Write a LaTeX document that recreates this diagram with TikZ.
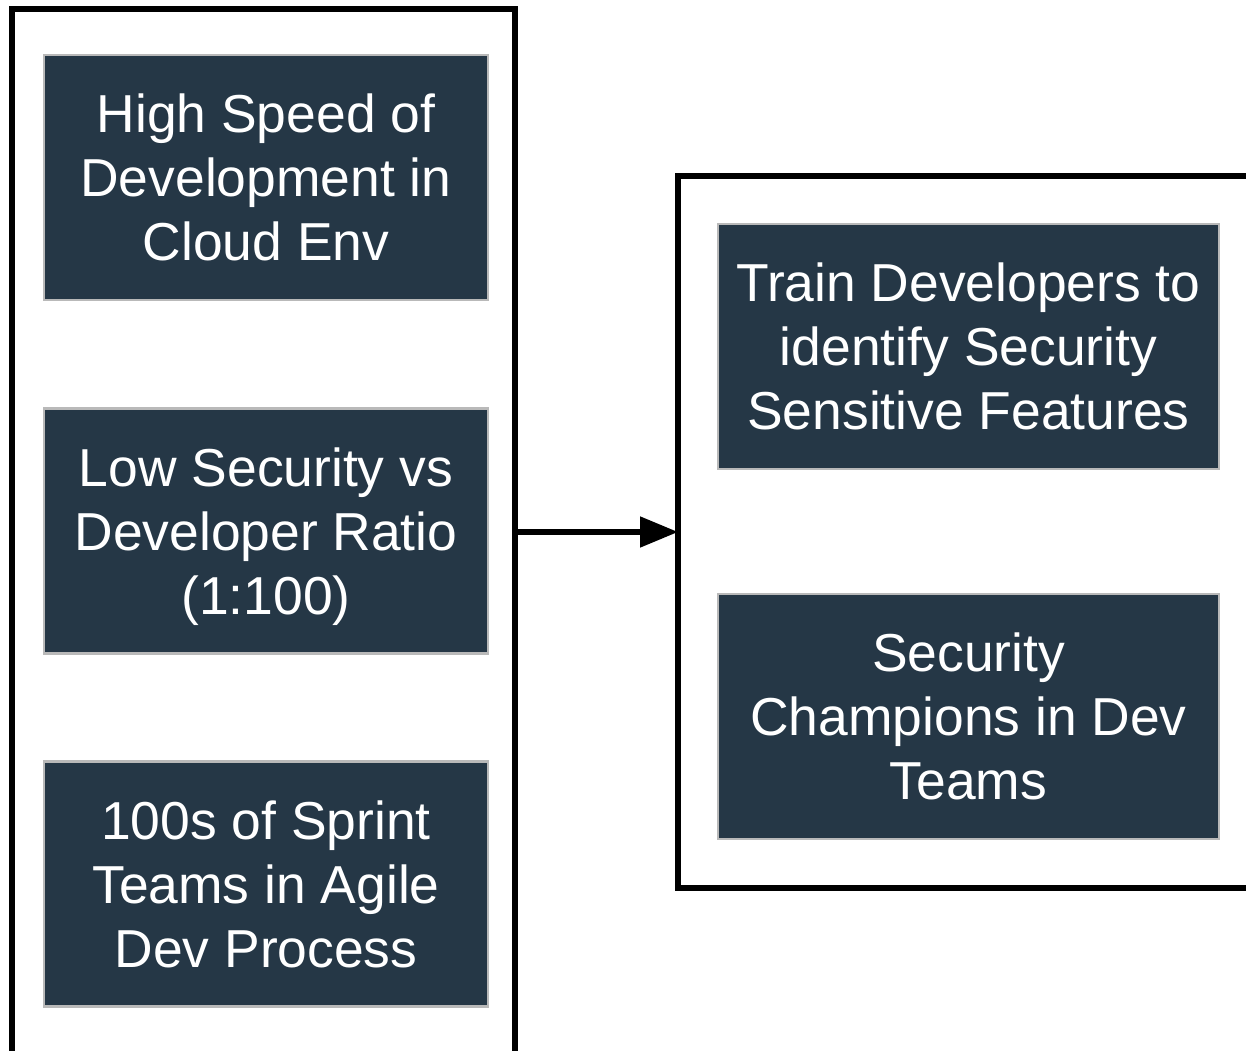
\documentclass[tikz,border=0pt]{standalone}
\usepackage{fontspec}
\setmainfont{Liberation Sans}
\usepackage{tikz}
\usetikzlibrary{arrows.meta,positioning,calc}
\definecolor{slate}{HTML}{253746}

\begin{document}
\begin{tikzpicture}[
  frame/.style={draw=black,line width=1.45pt,inner sep=0pt,outer sep=0pt},
  card/.style={fill=slate,draw=gray!55,line width=0.6pt,text=white,align=center,
    minimum height=2.45cm,inner sep=0pt,outer sep=0pt,text depth=0pt,
    font=\fontsize{15.2}{18.2}\selectfont}
]
\useasboundingbox (0,0) rectangle (12.46,-10.51);
\clip (0,0) rectangle (12.46,-10.51);
% frames
\node[frame,minimum width=5.03cm,minimum height=10.91cm] (leftframe) at (2.635,-5.545) {};
\node[frame,minimum width=6.22cm,minimum height=7.12cm] (rightframe) at (9.89,-5.32) {};
% left column
\foreach \n/\y/\t in {speed/-1.775/{High Speed of\\Development in\\Cloud Env},
                      ratio/-5.31/{Low Security vs\\Developer Ratio\\(1:100)},
                      teams/-8.84/{100s of Sprint\\Teams in Agile\\Dev Process}}
  {\node[card,minimum width=4.44cm] (\n) at (2.66,\y) {\t};}
% right column
\foreach \n/\y/\t in {train/-3.465/{Train Developers to\\identify Security\\Sensitive Features},
                      champs/-7.165/{Security\\Champions in Dev\\Teams}}
  {\node[card,minimum width=5.01cm] (\n) at (9.685,\y) {\t};}
% connector
\draw[line width=1.45pt,-{Triangle[length=0.38cm,width=0.3cm]}]
  (leftframe.east |- rightframe.west) -- (rightframe.west);
\end{tikzpicture}
\end{document}
